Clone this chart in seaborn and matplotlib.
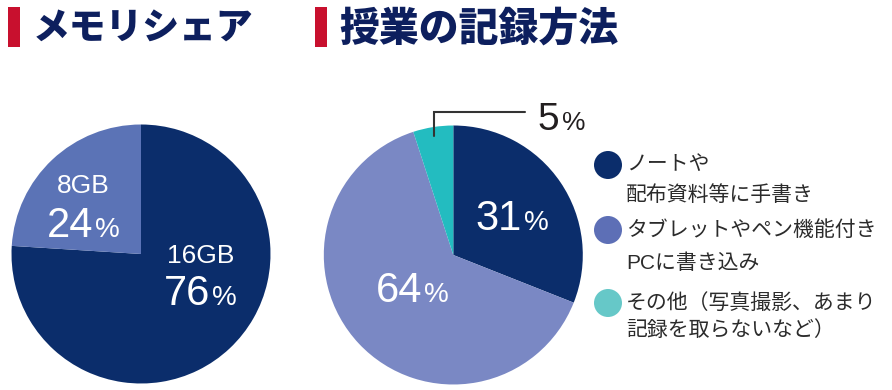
import matplotlib
matplotlib.use("Agg")
import matplotlib.pyplot as plt
import seaborn as sns
from matplotlib.patches import Circle, Rectangle
import numpy as np

sns.set_theme(style="white")
plt.rcParams['font.family'] = ['Liberation Sans', 'Noto Sans CJK JP', 'DejaVu Sans']

# ---- data ----
titles = ["メモリシェア", "授業の記録方法"]

memory_labels = ["16GB", "8GB"]
memory_values = [76, 24]
memory_colors = ["#0b2d6b", "#5b73b6"]

record_labels = ["ノートや\n配布資料等に手書き",
                 "タブレットやペン機能付き\nPCに書き込み",
                 "その他（写真撮影、あまり\n記録を取らないなど）"]
record_values = [31, 64, 5]
record_colors = ["#0b2d6b", "#7a88c4", "#23bcc0"]
legend_colors = ["#0b2d6b", "#5d6fb6", "#66c8c8"]

W, H = 892, 390
R = 129.5
fig = plt.figure(figsize=(W / 100, H / 100), dpi=100)

def px_axes(cx, cy, r):
    return fig.add_axes([(cx - r) / W, (H - cy - r) / H, 2 * r / W, 2 * r / H])

groups = []

def pct_label(ax, value, cx, y_base, num_size=30, pct_size=20, color="white"):
    t = ax.text(cx, y_base, f"{value}", ha="left", va="baseline",
                fontsize=num_size, color=color, family="Liberation Sans")
    p = ax.annotate("%", xy=(1.0, y_base), xycoords=(t, "data"), ha="left",
                    va="baseline", fontsize=pct_size, color=color,
                    family="Liberation Sans", xytext=(1.5, 0),
                    textcoords="offset points")
    groups.append((ax, t, p, cx))

# ---- left pie ----
ax1 = px_axes(141, 254, R)
ax1.pie(memory_values, colors=memory_colors, startangle=90, counterclock=False,
        radius=1, wedgeprops=dict(linewidth=0))
ax1.set_xlim(-1, 1); ax1.set_ylim(-1, 1); ax1.set_aspect("equal"); ax1.axis("off")

ax1.text(0.463, -0.069, memory_labels[0], ha="center", va="baseline",
         fontsize=19, color="white")
pct_label(ax1, memory_values[0], 0.456, -0.394)
ax1.text(-0.448, 0.471, memory_labels[1], ha="center", va="baseline",
         fontsize=19, color="white")
pct_label(ax1, memory_values[1], -0.444, 0.134)

# ---- right pie ----
ax2 = px_axes(453.3, 255, R)
wedges, _ = ax2.pie(record_values, colors=record_colors, startangle=90,
                    counterclock=False, radius=1, wedgeprops=dict(linewidth=0))
ax2.set_xlim(-1, 1); ax2.set_ylim(-1, 1); ax2.set_aspect("equal"); ax2.axis("off")

pct_label(ax2, record_values[0], 0.456, 0.193)
pct_label(ax2, record_values[1], -0.315, -0.36)

# leader line for small slice
w = wedges[2]
mid = np.deg2rad((w.theta1 + w.theta2) / 2)
x0 = 0.95 * np.cos(mid)
y0 = 0.95 * np.sin(mid)
ax2.plot([x0, x0, 0.554], [y0 - 0.02, 1.104, 1.104], color="#333333", lw=1.5,
         clip_on=False, solid_joinstyle="miter")
pct_label(ax2, record_values[2], 0.836, 0.965, num_size=28, pct_size=19,
          color="#231f20")

# ---- overlay: titles and legend ----
ov = fig.add_axes([0, 0, 1, 1], zorder=-1)
ov.set_xlim(0, W); ov.set_ylim(H, 0); ov.axis("off")

for (bx, tx, fs), title in zip([(8, 33, 26.5), (315, 339, 28.7)], titles):
    ov.add_patch(Rectangle((bx, 7), 12, 40, color="#c8102e", lw=0))
    ov.text(tx, 29, title, ha="left", va="center", fontsize=fs,
            fontweight="heavy", color="#0d1f5e", family="Noto Sans CJK JP")

legend_rows = [(165, 195), (230, 263), (303, 330)]
for (y1, y2), lab, c in zip(legend_rows, record_labels, legend_colors):
    ov.add_patch(Circle((608, y1), 14, color=c, lw=0))
    for yy, line in zip((y1, y2), lab.split("\n")):
        ov.text(626, yy, line, ha="left", va="center", fontsize=15,
                color="#2b2b2b",
                family=["Liberation Sans", "Noto Sans CJK JP"])

# centre each number+% group on its target x
fig.canvas.draw()
for ax, t, p, cx in groups:
    b1 = t.get_window_extent()
    b2 = p.get_window_extent()
    left, right = b1.x0, b2.x1
    centre_px = ax.transData.transform((cx, 0))[0]
    shift_px = centre_px - (left + right) / 2
    t.set_x(cx + shift_px / R)

fig.savefig("out.png", dpi=100)
